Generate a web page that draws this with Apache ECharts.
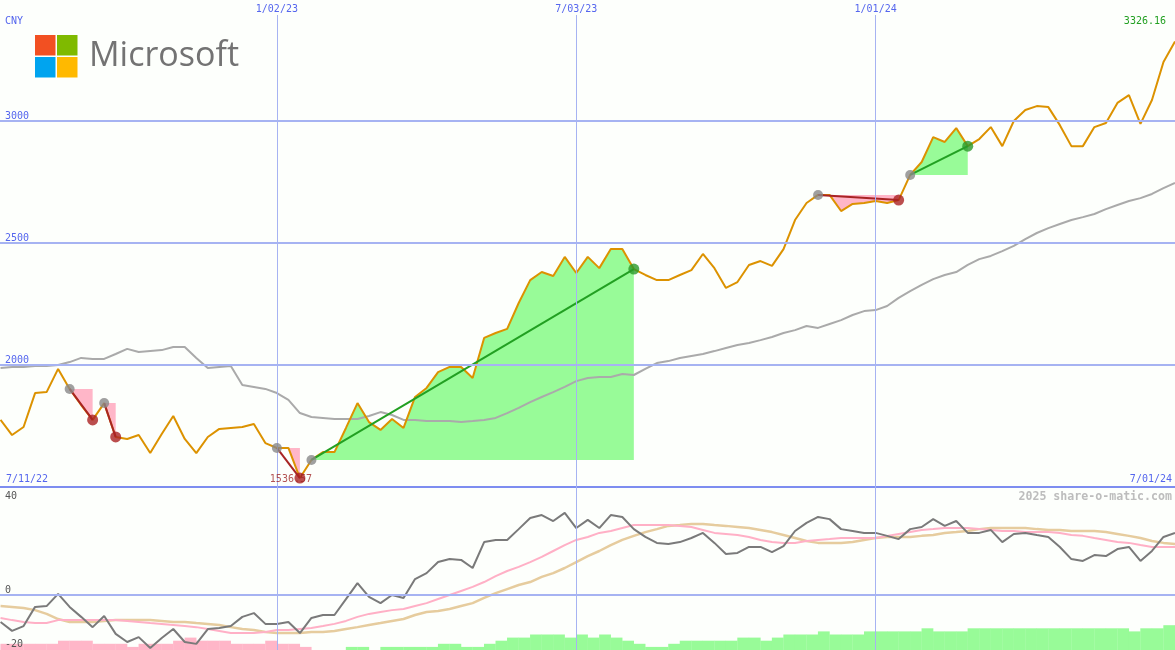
<!DOCTYPE html>
<html><head><meta charset="utf-8">
<script src="https://cdn.jsdelivr.net/npm/echarts@6/dist/echarts.min.js"></script>
<style>html,body{margin:0;padding:0;background:#fdfffc}#c{width:1175px;height:650px}</style>
</head><body><div id="c"></div><script>
// Weekly data, week index 0 = 7/11/22 ; arrays start at week 1 (7/18/22) and end at week 103 (7/01/24)
const firstWeek = 1;
const startLabel = '7/11/22';
const endLabel = '7/01/24';
const dateTicks = ['1/02/23', '7/03/23', '1/01/24'];
const dateTickWeeks = [25, 51, 77];
const priceTicks = [2000, 2500, 3000];
const oscTicks = [40, 0, -20];

const price = [1775,1713,1746,1885,1889,1984,1902,1836,1775,1844,
1705,1697,1713,1639,1717,1791,1697,1639,1705,1738,
1742,1746,1758,1680,1660,1660,1536.57,1611,1643,1643,
1742,1844,1766,1734,1779,1742,1869,1906,1971,1992,
1992,1947,2111,2131,2148,2254,2348,2381,2365,2443,
2377,2443,2397,2475,2475,2393,2369,2348,2348,2369,
2389,2455,2397,2316,2340,2410,2426,2406,2475,2594,
2664,2697,2697,2631,2660,2664,2672,2664,2676,2779,
2832,2934,2914,2971,2897,2926,2975,2897,3000,3045,
3061,3057,2983,2897,2897,2975,2992,3074,3106,2988,
3086,3242,3326.16];

const priceMA = [1988,1992,1992,1996,1996,2000,2012,2029,2025,2025,
2045,2066,2053,2057,2061,2074,2074,2029,1988,1992,
1996,1918,1910,1902,1885,1857,1803,1787,1783,1779,
1779,1779,1791,1807,1795,1775,1775,1770,1770,1770,
1766,1770,1775,1783,1803,1824,1848,1869,1889,1910,
1934,1947,1951,1951,1963,1959,1984,2008,2016,2029,
2037,2045,2057,2070,2082,2090,2102,2115,2131,2143,
2160,2152,2168,2184,2205,2221,2225,2242,2275,2303,
2328,2352,2369,2381,2410,2434,2447,2467,2488,2516,
2541,2561,2578,2594,2606,2619,2639,2656,2672,2684,
2701,2725,2746];

const osc = [-10.0,-13.3,-11.5,-4.4,-4.1,0.4,-4.4,-8.1,-11.9,-7.8,
-14.4,-17.4,-15.6,-19.6,-15.9,-12.6,-17.4,-18.1,-12.6,-12.2,
-11.5,-8.1,-6.7,-10.7,-10.7,-10.0,-14.1,-8.5,-7.4,-7.4,
-1.5,4.4,-0.7,-3.0,0.0,-1.1,5.9,8.1,12.2,13.3,
13.0,10.0,19.6,20.4,20.4,24.4,28.5,29.6,27.4,30.4,
24.8,27.8,24.8,29.6,28.9,24.4,21.5,19.3,18.9,19.6,
21.1,23.0,19.3,15.2,15.6,17.8,17.8,15.9,18.1,23.7,
26.7,28.9,28.1,24.4,23.7,23.0,23.0,21.9,20.7,24.4,
25.2,28.1,25.6,27.4,23.0,23.0,24.1,19.6,22.6,23.0,
22.2,21.5,17.8,13.3,12.6,14.8,14.4,17.0,17.8,12.6,
16.3,21.5,23.0];

const oscSignal = [-8.5,-9.3,-10.0,-10.4,-10.4,-9.3,-9.3,-9.3,-9.3,-9.3,
-9.3,-9.6,-10.0,-10.4,-10.7,-11.1,-11.5,-11.9,-12.6,-13.3,
-14.1,-14.1,-14.1,-13.7,-13.0,-13.0,-12.6,-12.2,-11.5,-10.7,
-9.6,-8.1,-7.0,-6.3,-5.6,-5.2,-4.1,-3.0,-1.5,0.0,
1.5,3.0,4.8,7.0,8.9,10.4,12.2,14.1,16.3,18.5,
20.4,21.5,23.0,23.7,24.8,25.9,25.9,25.9,25.9,25.6,
25.2,24.1,23.0,22.6,22.2,21.5,20.4,19.6,19.3,19.3,
20.0,20.4,20.7,21.1,21.1,21.1,21.1,21.9,22.6,23.3,
24.1,24.4,24.8,24.8,24.8,24.4,24.1,23.7,23.7,23.3,
23.3,23.3,23.0,22.2,21.9,21.1,20.4,19.6,19.3,18.5,
17.8,17.8,17.8];

const oscSlow = [-4.1,-4.4,-4.8,-5.6,-7.0,-8.9,-10.0,-10.0,-10.0,-9.6,
-9.3,-9.3,-9.3,-9.3,-9.6,-10.0,-10.0,-10.4,-10.7,-11.1,
-11.9,-12.6,-13.0,-13.7,-14.1,-14.1,-14.1,-13.7,-13.7,-13.3,
-12.6,-11.9,-11.1,-10.4,-9.6,-8.9,-7.4,-6.3,-5.9,-5.2,
-4.1,-3.0,-1.1,0.7,2.2,3.7,4.8,6.7,8.1,10.0,
12.2,14.4,16.3,18.5,20.4,21.9,23.3,24.4,25.6,25.9,
26.3,26.3,25.9,25.6,25.2,24.8,24.1,23.3,22.2,21.1,
20.0,19.3,19.3,19.3,19.6,20.4,21.1,21.5,21.5,21.5,
21.9,22.2,23.0,23.3,23.7,24.4,24.8,24.8,24.8,24.8,
24.4,24.1,24.1,23.7,23.7,23.7,23.3,22.6,21.9,21.1,
20.0,19.3,18.9];

const hist = [-2,-2,-2,-2,-2,-3,-3,-3,-2,-2,
-2,-1,-2,-2,-2,-3,-4,-3,-3,-3,
-2,-2,-2,-3,-2,-2,-1,0,0,0,
1,1,0,1,1,1,1,1,2,2,
1,1,2,3,4,4,5,5,5,4,
5,4,5,4,3,2,1,1,2,3,
3,3,3,3,4,4,3,4,5,5,
5,6,5,5,5,6,6,6,6,6,
7,6,6,6,7,7,7,7,7,7,
7,7,7,7,7,7,7,7,6,7,
7,8,8];

// signals: [start week, end week, direction]
const signalStarts = [7, 10, 25, 28, 72, 80];
const signalEnds   = [9, 11, 27, 56, 79, 85];
const signalDirs   = ['down','down','down','up','down','up'];

const MONO = '"DejaVu Sans Mono", monospace';
const BLUE_TXT = '#5566ee', GRIDC = '#a6b3f2', BORDER = '#7d8df0';
const PINK = '#ffb6c8', LGREEN = '#98fb98';
const P = w => price[w - firstWeek];
const pts = arr => arr.map((v, k) => [k + firstWeek, v]);

const series = [];
// shaded signal regions
series.push({
  type: 'custom', xAxisIndex: 0, yAxisIndex: 0, z: 1, silent: true,
  data: signalStarts.map((s, k) => [s, signalEnds[k]]),
  renderItem(params, api) {
    const k = params.dataIndex, a = signalStarts[k], b = signalEnds[k];
    const level = P(a);
    const poly = [];
    for (let w = a; w <= b; w++) poly.push(api.coord([w, P(w)]));
    poly.push(api.coord([b, level]));
    return { type: 'polygon', shape: { points: poly }, style: { fill: signalDirs[k] === 'up' ? LGREEN : PINK } };
  }
});
const lbl = { fontFamily: MONO, fontSize: 10 };
series.push({
  type: 'line', xAxisIndex: 0, yAxisIndex: 0, z: 2, silent: true, symbol: 'none', clip: false,
  data: pts(priceMA), lineStyle: { color: '#aaaaaa', width: 2 },
  markLine: {
    silent: true, symbol: 'none', animation: false,
    data: [
      ...priceTicks.map(t => ({ yAxis: t, lineStyle: { color: GRIDC, width: 2, type: 'solid' },
        label: { show: true, position: 'insideStartTop', distance: [5, 0], formatter: String(t), color: BLUE_TXT, ...lbl } })),
      { yAxis: 1500, lineStyle: { color: BORDER, width: 2, type: 'solid' }, label: { show: false } },
      ...dateTickWeeks.map((w, k) => [
        { coord: [w, 1500], name: dateTicks[k], lineStyle: { color: GRIDC, width: 1, type: 'solid' },
          label: { show: true, position: 'end', distance: 1, formatter: dateTicks[k], color: BLUE_TXT, ...lbl } },
        { coord: [w, 3434.4] }
      ])
    ]
  }
});
series.push({
  type: 'line', xAxisIndex: 0, yAxisIndex: 0, z: 3, silent: true, symbol: 'none',
  data: pts(price), lineStyle: { color: '#dc9200', width: 2 }
});
signalStarts.forEach((s, k) => {
  const e = signalEnds[k];
  series.push({
    type: 'line', xAxisIndex: 0, yAxisIndex: 0, z: 4, silent: true, symbol: 'none',
    data: [[s, P(s)], [e, P(e)]],
    lineStyle: { color: signalDirs[k] === 'up' ? '#22a022' : '#a82424', width: 2 }
  });
});
series.push({
  type: 'scatter', xAxisIndex: 0, yAxisIndex: 0, z: 5, silent: true, symbolSize: 10,
  data: signalStarts.map(s => [s, P(s)]), itemStyle: { color: '#888888' }
});
const minIdx = price.indexOf(Math.min(...price));
series.push({
  type: 'scatter', xAxisIndex: 0, yAxisIndex: 0, z: 5, silent: true, symbolSize: 11,
  data: signalEnds.map((e, k) => {
    const item = { value: [e, P(e)], itemStyle: { color: signalDirs[k] === 'up' ? '#2a9a2a' : '#aa2222' } };
    if (e - firstWeek === minIdx) item.label = { show: true, position: 'inside', offset: [-9, 1],
      formatter: String(P(e)), color: '#a02828', ...lbl };
    return item;
  })
});
// lower panel
series.push({
  type: 'bar', xAxisIndex: 1, yAxisIndex: 2, z: 1, silent: true, barWidth: 11.8, barGap: '-100%',
  data: hist.map((h, k) => ({ value: [k + firstWeek + 0.5, Math.abs(h)], itemStyle: { color: h < 0 ? PINK : LGREEN } }))
});
const hidden = { color: 'rgba(0,0,0,0)', width: 0, type: 'solid' };
series.push({
  type: 'line', xAxisIndex: 1, yAxisIndex: 1, z: 2, silent: true, symbol: 'none', clip: false,
  data: pts(oscSlow), lineStyle: { color: '#e6cc9e', width: 2.5 },
  markLine: {
    silent: true, symbol: 'none', animation: false,
    data: [
      { yAxis: 0, lineStyle: { color: GRIDC, width: 2, type: 'solid' },
        label: { show: true, position: 'insideStartTop', distance: [5, 0], formatter: '0', color: '#555555', ...lbl } },
      { yAxis: 40, lineStyle: hidden,
        label: { show: true, position: 'insideStartBottom', distance: [5, 4], formatter: '40', color: '#555555', ...lbl } },
      { yAxis: -20, lineStyle: hidden,
        label: { show: true, position: 'insideStartTop', distance: [5, 0], formatter: '-20', color: '#555555', ...lbl } },
      ...dateTickWeeks.map(w => ({ xAxis: w, lineStyle: { color: GRIDC, width: 1, type: 'solid' }, label: { show: false } }))
    ]
  }
});
series.push({
  type: 'line', xAxisIndex: 1, yAxisIndex: 1, z: 3, silent: true, symbol: 'none',
  data: pts(oscSignal), lineStyle: { color: '#ffb0c6', width: 2 }
});
series.push({
  type: 'line', xAxisIndex: 1, yAxisIndex: 1, z: 4, silent: true, symbol: 'none',
  data: pts(osc), lineStyle: { color: '#7a7a7a', width: 2 }
});

const option = {
  animation: false,
  backgroundColor: '#fdfffc',
  grid: [
    { left: 0, right: 0, top: 0, height: 490 },
    { left: 0, right: 0, top: 487, height: 163 }
  ],
  xAxis: [
    { type: 'value', gridIndex: 0, min: 0.953, max: 103, show: false },
    { type: 'value', gridIndex: 1, min: 0.953, max: 103, show: false }
  ],
  yAxis: [
    { type: 'value', gridIndex: 0, min: 1487.7, max: 3495.9, show: false },
    { type: 'value', gridIndex: 1, min: -20.37, max: 40, show: false },
    { type: 'value', gridIndex: 1, min: 0, max: 52.58, show: false }
  ],
  graphic: [
    { type: 'rect', shape: { x: 35, y: 35, width: 20.5, height: 20.5 }, style: { fill: '#f25022' } },
    { type: 'rect', shape: { x: 57, y: 35, width: 20.5, height: 20.5 }, style: { fill: '#7fba00' } },
    { type: 'rect', shape: { x: 35, y: 57, width: 20.5, height: 20.5 }, style: { fill: '#00a4ef' } },
    { type: 'rect', shape: { x: 57, y: 57, width: 20.5, height: 20.5 }, style: { fill: '#ffb900' } },
    { type: 'text', x: 89, y: 56, style: { text: 'Microsoft', fontFamily: '"Open Sans"', fontWeight: 'normal', fontSize: 34, fill: '#737373', verticalAlign: 'middle' } },
    { type: 'text', x: 5, y: 21.5, style: { text: 'CNY', fill: BLUE_TXT, fontFamily: MONO, fontSize: 10, verticalAlign: 'middle' } },
    { type: 'text', x: 1166, y: 21.5, style: { text: String(price[price.length - 1]), fill: '#22a022', fontFamily: MONO, fontSize: 10, align: 'right', verticalAlign: 'middle' } },
    { type: 'text', x: 6, y: 479, style: { text: startLabel, fill: BLUE_TXT, fontFamily: MONO, fontSize: 10, verticalAlign: 'middle' } },
    { type: 'text', x: 1172, y: 479, style: { text: endLabel, fill: BLUE_TXT, fontFamily: MONO, fontSize: 10, align: 'right', verticalAlign: 'middle' } },
    { type: 'text', x: 1172, y: 497, z: 10, style: { text: '2025 share-o-matic.com', fill: '#bdbdbd', fontFamily: MONO, fontWeight: 'bold', fontSize: 11.6, align: 'right', verticalAlign: 'middle' } }
  ],
  series
};
echarts.init(document.getElementById('c')).setOption(option);
</script></body></html>
